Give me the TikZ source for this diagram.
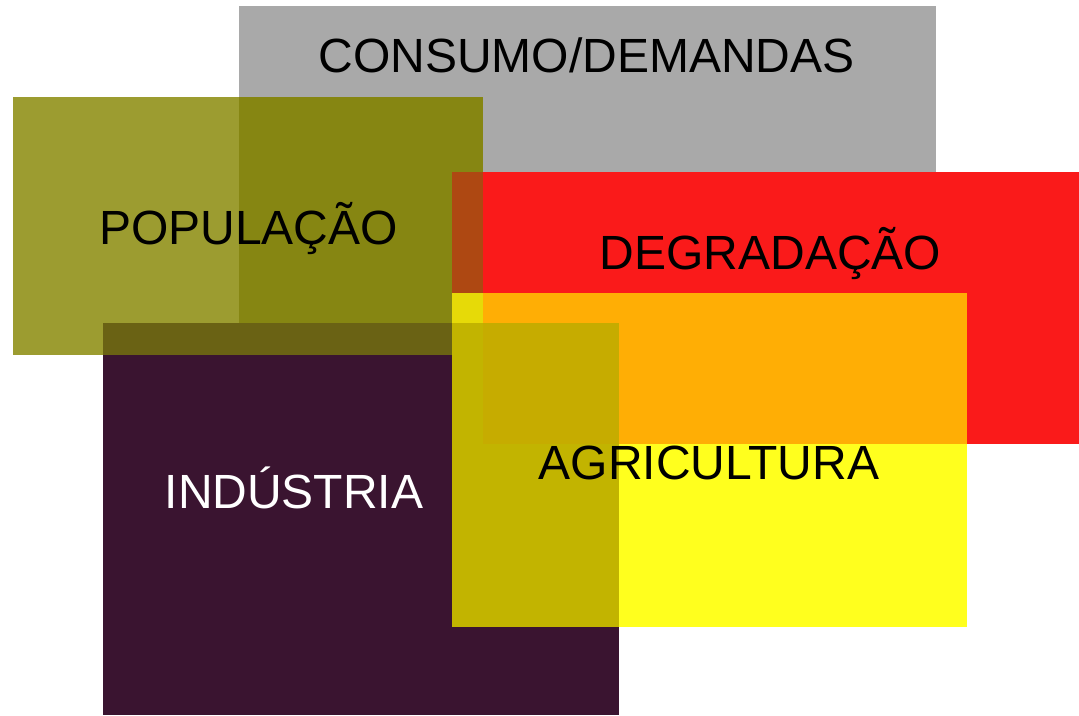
\documentclass[tikz,border=0pt]{standalone}
\usepackage{fontspec}
\setmainfont{Liberation Sans}
\definecolor{cgray}{HTML}{A9A9A9}
\definecolor{colive}{HTML}{9C9C30}
\definecolor{colivegray}{HTML}{868612}
\definecolor{cind}{HTML}{3A1430}
\definecolor{coliveind}{HTML}{6A6214}
\definecolor{cred}{HTML}{FA1A1A}
\definecolor{credolive}{HTML}{AE4812}
\definecolor{cyellow}{HTML}{FFFF1E}
\definecolor{cyelred}{HTML}{FFAE05}
\definecolor{cyelind}{HTML}{C2B400}
\definecolor{cyelredind}{HTML}{C6AC00}
\definecolor{cyelstrip}{HTML}{E6DA08}
\tikzset{
  lbl/.style={anchor=base, inner sep=0pt, font=\fontsize{48}{58}\selectfont},
}
\begin{document}
\begin{tikzpicture}[x=1pt,y=-1pt]
\useasboundingbox (0,0) rectangle (1079,715);
% consumo
\fill[cgray] (239,6) rectangle (936,355);
% populacao
\fill[colive] (13,97) rectangle (239,355);
\fill[colivegray] (239,97) rectangle (483,355);
% industria
\fill[cind] (103,323) rectangle (619,715);
\fill[coliveind] (103,323) rectangle (483,355);
% degradacao
\fill[cred] (452,172) rectangle (1079,444);
\fill[credolive] (452,172) rectangle (483,293);
% agricultura
\fill[cyellow] (452,293) rectangle (967,627);
\fill[cyelred] (452,293) rectangle (967,444);
\fill[cyelind] (452,323) rectangle (619,627);
\fill[cyelredind] (483,323) rectangle (619,444);
\fill[cyelstrip] (452,293) rectangle (483,323);
% labels
\node[lbl] (tcons) at (586.5,72) {CONSUMO/DEMANDAS};
\node[lbl] (tpop) at (248.5,244) {POPULAÇÃO};
\node[lbl] (tdeg) at (770.5,269) {DEGRADAÇÃO};
\node[lbl] (tagr) at (709,479) {AGRICULTURA};
\node[lbl, text=white] (tind) at (294,508) {INDÚSTRIA};
\end{tikzpicture}
\end{document}
